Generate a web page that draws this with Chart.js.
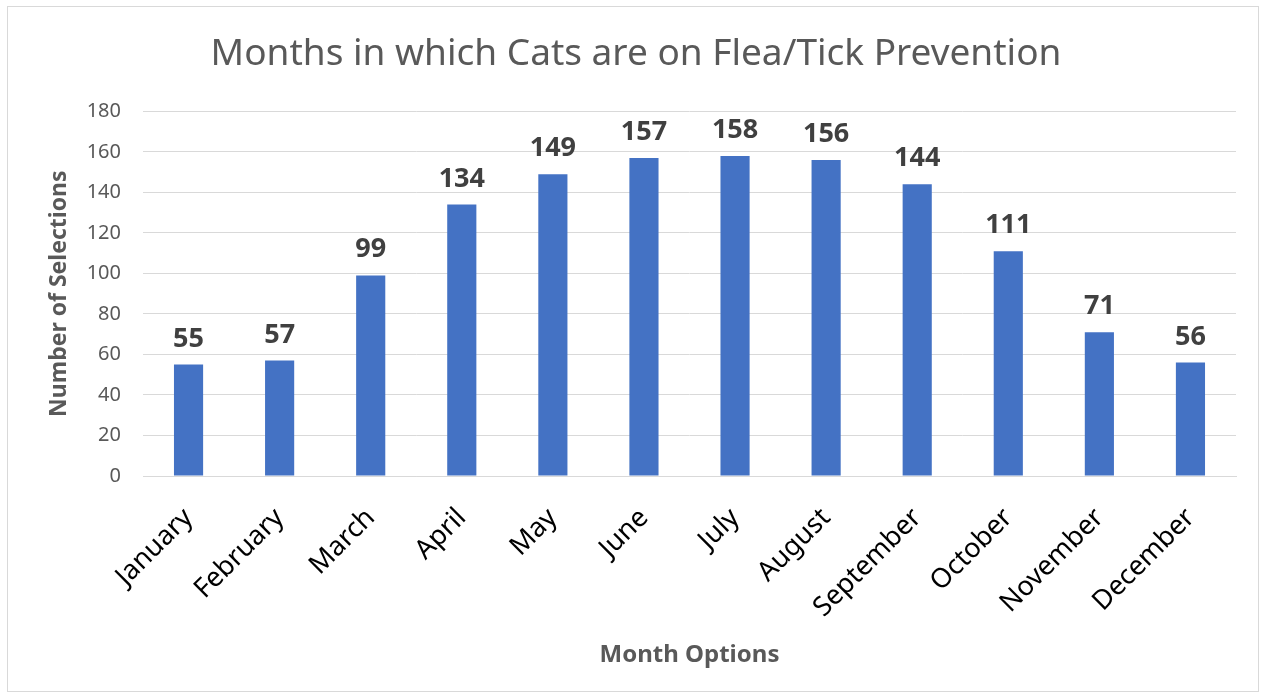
<!DOCTYPE html>
<html>
<head>
<meta charset="utf-8">
<script src="https://cdn.jsdelivr.net/npm/chart.js@4"></script>
<style>
  html, body { margin: 0; padding: 0; background: #fff; }
  #wrap { position: absolute; left: 0; top: 0; width: 1266px; height: 698px; }
  #frame { position: absolute; left: 7px; top: 6px; width: 1252px; height: 686px; border: 1px solid #d9d9d9; box-sizing: border-box; pointer-events: none; }
</style>
</head>
<body>
<div id="wrap">
  <canvas id="barChart" width="1266" height="698"></canvas>
  <div id="frame"></div>
</div>
<script>
const months = ['January', 'February', 'March', 'April', 'May', 'June',
                'July', 'August', 'September', 'October', 'November', 'December'];
const selections = [55, 57, 99, 134, 149, 157, 158, 156, 144, 111, 71, 56];

const fontFamily = "'Noto Sans', 'Open Sans', sans-serif";

// draws the value above each bar
const barLabels = {
    id: 'barLabels',
    afterDatasetsDraw(chart) {
        const ctx = chart.ctx;
        const meta = chart.getDatasetMeta(0);
        ctx.save();
        ctx.font = 'bold 27px ' + fontFamily;
        ctx.fillStyle = '#404040';
        ctx.textAlign = 'center';
        ctx.textBaseline = 'alphabetic';
        meta.data.forEach((bar, i) => {
            ctx.fillText(chart.data.datasets[0].data[i], bar.x, bar.y - 18);
        });
        ctx.restore();
    }
};

const ctx = document.getElementById('barChart').getContext('2d');
new Chart(ctx, {
    type: 'bar',
    data: {
        labels: months,
        datasets: [{
            label: 'Number of Selections',
            data: selections,
            backgroundColor: '#4472c4',
            borderWidth: 0,
            barPercentage: 0.64,
            categoryPercentage: 0.5
        }]
    },
    options: {
        responsive: false,
        animation: false,
        layout: { padding: { top: 0, right: 30, left: 36, bottom: 0 } },
        plugins: {
            legend: { display: false },
            tooltip: { enabled: false },
            title: {
                display: true,
                text: 'Months in which Cats are on Flea/Tick Prevention',
                color: '#595959',
                font: { family: fontFamily, size: 37, weight: 'normal' },
                padding: { top: 32, bottom: 35 }
            }
        },
        scales: {
            x: {
                grid: { display: false, drawTicks: false },
                border: { display: true, color: '#d9d9d9', width: 1 },
                ticks: {
                    color: '#000',
                    font: { family: fontFamily, size: 27 },
                    minRotation: 45,
                    maxRotation: 45,
                    padding: 26
                },
                title: {
                    display: true,
                    text: 'Month Options',
                    color: '#595959',
                    font: { family: fontFamily, size: 24, weight: 'bold' },
                    padding: { top: 0, bottom: 28 }
                },
                afterFit(scale) { scale.height = 222; }
            },
            y: {
                min: 0,
                max: 180,
                grid: { color: '#d9d9d9', lineWidth: 1, drawTicks: false },
                border: { display: false },
                ticks: {
                    stepSize: 20,
                    color: '#595959',
                    font: { family: fontFamily, size: 20 },
                    padding: 22
                },
                title: {
                    display: true,
                    text: 'Number of Selections',
                    color: '#595959',
                    font: { family: fontFamily, size: 23, weight: 'bold' },
                    padding: { top: 10, bottom: 0 }
                },
                afterFit(scale) { scale.width = 107; }
            }
        }
    },
    plugins: [barLabels]
});
</script>
</body>
</html>
